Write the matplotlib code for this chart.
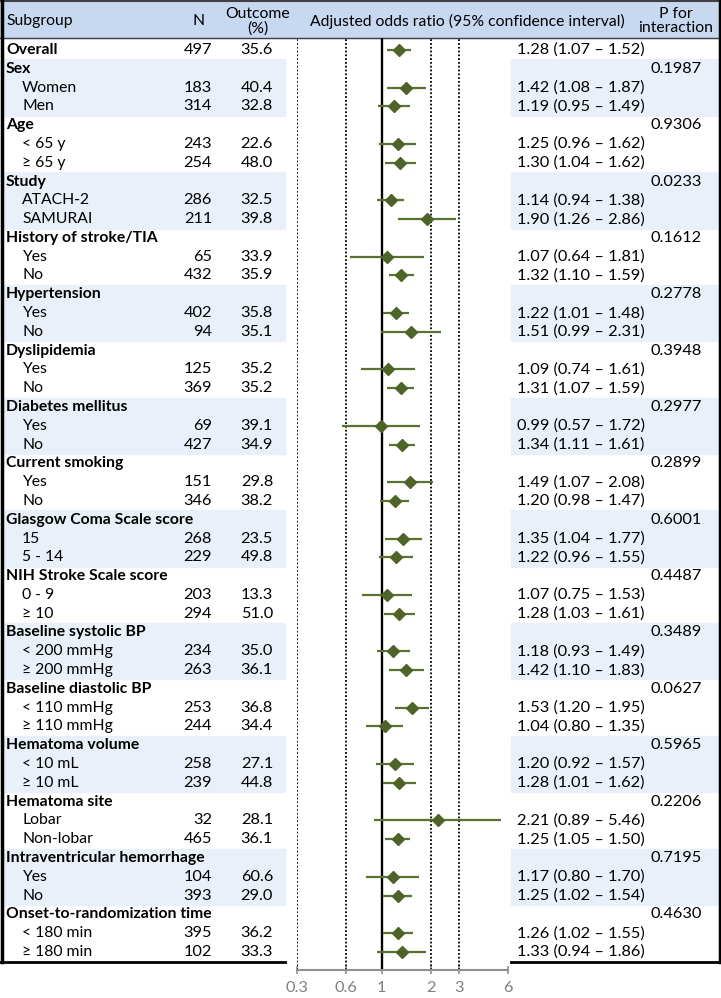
import numpy as np
import matplotlib.pyplot as plt

plt.rcParams["font.family"] = ["Lato", "DejaVu Sans"]

# ---- data ----
groups = ["Sex", "Age", "Study", "History of stroke/TIA", "Hypertension",
          "Dyslipidemia", "Diabetes mellitus", "Current smoking",
          "Glasgow Coma Scale score", "NIH Stroke Scale score",
          "Baseline systolic BP", "Baseline diastolic BP", "Hematoma volume",
          "Hematoma site", "Intraventricular hemorrhage",
          "Onset-to-randomization time"]
p_interaction = ["0.1987", "0.9306", "0.0233", "0.1612", "0.2778", "0.3948",
                 "0.2977", "0.2899", "0.6001", "0.4487", "0.3489", "0.0627",
                 "0.5965", "0.2206", "0.7195", "0.4630"]
sub_labels = [["Women", "Men"], ["< 65 y", "\u2265 65 y"], ["ATACH\u20112", "SAMURAI"],
              ["Yes", "No"], ["Yes", "No"], ["Yes", "No"], ["Yes", "No"],
              ["Yes", "No"], ["15", "5 - 14"], ["0 - 9", "\u2265 10"],
              ["< 200 mmHg", "\u2265 200 mmHg"], ["< 110 mmHg", "\u2265 110 mmHg"],
              ["< 10 mL", "\u2265 10 mL"], ["Lobar", "Non-lobar"], ["Yes", "No"],
              ["< 180 min", "\u2265 180 min"]]
sub_n = [[183, 314], [243, 254], [286, 211], [65, 432], [402, 94], [125, 369],
         [69, 427], [151, 346], [268, 229], [203, 294], [234, 263], [253, 244],
         [258, 239], [32, 465], [104, 393], [395, 102]]
sub_outcome = [["40.4", "32.8"], ["22.6", "48.0"], ["32.5", "39.8"], ["33.9", "35.9"],
               ["35.8", "35.1"], ["35.2", "35.2"], ["39.1", "34.9"], ["29.8", "38.2"],
               ["23.5", "49.8"], ["13.3", "51.0"], ["35.0", "36.1"], ["36.8", "34.4"],
               ["27.1", "44.8"], ["28.1", "36.1"], ["60.6", "29.0"], ["36.2", "33.3"]]
sub_or = [[1.42, 1.19], [1.25, 1.30], [1.14, 1.90], [1.07, 1.32], [1.22, 1.51],
          [1.09, 1.31], [0.99, 1.34], [1.49, 1.20], [1.35, 1.22], [1.07, 1.28],
          [1.18, 1.42], [1.53, 1.04], [1.20, 1.28], [2.21, 1.25], [1.17, 1.25],
          [1.26, 1.33]]
sub_lo = [[1.08, 0.95], [0.96, 1.04], [0.94, 1.26], [0.64, 1.10], [1.01, 0.99],
          [0.74, 1.07], [0.57, 1.11], [1.07, 0.98], [1.04, 0.96], [0.75, 1.03],
          [0.93, 1.10], [1.20, 0.80], [0.92, 1.01], [0.89, 1.05], [0.80, 1.02],
          [1.02, 0.94]]
sub_hi = [[1.87, 1.49], [1.62, 1.62], [1.38, 2.86], [1.81, 1.59], [1.48, 2.31],
          [1.61, 1.59], [1.72, 1.61], [2.08, 1.47], [1.77, 1.55], [1.53, 1.61],
          [1.49, 1.83], [1.95, 1.35], [1.57, 1.62], [5.46, 1.50], [1.70, 1.54],
          [1.55, 1.86]]
overall = {"n": 497, "outcome": "35.6", "or": 1.28, "lo": 1.07, "hi": 1.52}
shaded_groups = [0, 2, 4, 6, 8, 10, 12, 14]
xticks = [0.3, 0.6, 1, 2, 3, 6]
ref_lines = [0.3, 0.6, 2, 3]

W, H = 721, 998
row0, dy = 50, 18.79
header_bg = "#c6d9f0"
shade = "#eaf0f9"
green = "#4f6228"

fig = plt.figure(figsize=(W / 100, H / 100), dpi=100)
bg = fig.add_axes([0, 0, 1, 1])
bg.set_xlim(0, W)
bg.set_ylim(H, 0)
bg.axis("off")

fs = 11.3     # labels
fn = 11.8     # numbers
# header
bg.add_patch(plt.Rectangle((0, 0), W, 38, color=header_bg, zorder=0))
bg.plot([0, W], [0.8, 0.8], color="#404040", lw=1.5)
bg.plot([0, W], [38, 38], color="#404040", lw=1.0)
bg.text(6, 21, "Subgroup", fontsize=fs, va="center")
bg.text(199, 21, "N", fontsize=fs, va="center", ha="center")
bg.text(258, 21, "Outcome\n(%)", fontsize=fs, va="center", ha="center", linespacing=1.05)
bg.text(467, 21, "Adjusted odds ratio (95% confidence interval)", fontsize=fs,
        va="center", ha="center")
bg.text(676, 21, "P for\ninteraction", fontsize=fs, va="center", ha="center",
        linespacing=1.05)

# table rows
ys, ors, los, his = [], [], [], []
y = row0
bg.text(6, y, "Overall", fontsize=fs, fontweight="bold", va="center")
bg.text(212, y, str(overall["n"]), fontsize=fn, va="center", ha="right")
bg.text(273, y, overall["outcome"], fontsize=fn, va="center", ha="right")
bg.text(517, y, f"{overall['or']:.2f} ({overall['lo']:.2f} \u2013 {overall['hi']:.2f})",
        fontsize=fn, va="center")
ys.append(y); ors.append(overall["or"]); los.append(overall["lo"]); his.append(overall["hi"])

for g, name in enumerate(groups):
    yg = row0 + (1 + 3 * g) * dy
    if g in shaded_groups:
        top, bot = yg - dy / 2, yg + 2.5 * dy
        bg.add_patch(plt.Rectangle((3, top), 282, bot - top, color=shade, zorder=0))
        bg.add_patch(plt.Rectangle((511, top), 207, bot - top, color=shade, zorder=0))
    bg.text(6, yg, name, fontsize=fs, fontweight="bold", va="center")
    bg.text(702, yg, p_interaction[g], fontsize=fn, va="center", ha="right")
    for k in range(2):
        ys_k = yg + (k + 1) * dy
        bg.text(22, ys_k, sub_labels[g][k], fontsize=fs, va="center")
        bg.text(212, ys_k, str(sub_n[g][k]), fontsize=fn, va="center", ha="right")
        bg.text(273, ys_k, sub_outcome[g][k], fontsize=fn, va="center", ha="right")
        bg.text(517, ys_k,
                f"{sub_or[g][k]:.2f} ({sub_lo[g][k]:.2f} \u2013 {sub_hi[g][k]:.2f})",
                fontsize=fn, va="center")
        ys.append(ys_k); ors.append(sub_or[g][k])
        los.append(sub_lo[g][k]); his.append(sub_hi[g][k])

# borders
bg.plot([1.5, 1.5], [0, 962], color="black", lw=2.5)
bg.plot([719.5, 719.5], [0, 962], color="black", lw=2.5)
bg.plot([0, 285], [962, 962], color="black", lw=2)
bg.plot([511, 721], [962, 962], color="black", lw=2)

# forest plot
ax = fig.add_axes([297 / W, (H - 970) / H, 211 / W, (970 - 38) / H])
ax.set_facecolor("none")
ax.set_xscale("log")
ax.set_xlim(0.3, 6)
ax.set_ylim(970, 38)
for x in ref_lines:
    ax.axvline(x, color="black", ls=(0, (1, 1.1)), lw=1.3)
ax.axvline(1, color="black", lw=1.7)
ys = np.array(ys)
ax.hlines(ys, los, his, color="#5a7230", lw=1.6)
ax.plot(ors, ys, "D", color=green, ms=6.5, ls="none")
for s in ["top", "right", "left"]:
    ax.spines[s].set_visible(False)
ax.spines["bottom"].set_color("#909090")
ax.spines["bottom"].set_linewidth(1.5)
ax.set_yticks([])
ax.set_xticks(xticks)
ax.set_xticklabels([str(t) for t in xticks])
ax.minorticks_off()
ax.tick_params(axis="x", colors="#909090", labelcolor="#808080", length=6,
               width=1.2, direction="inout", labelsize=fn, pad=5)

fig.savefig("out.png", dpi=100)
